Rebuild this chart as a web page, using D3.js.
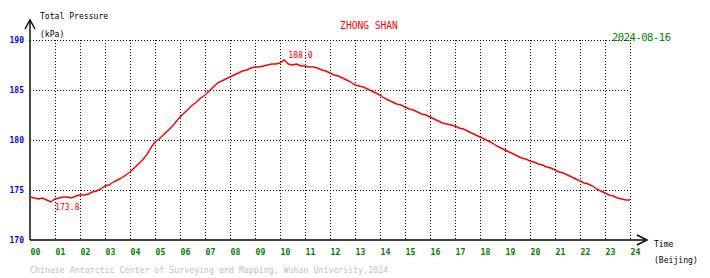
<!DOCTYPE html>
<html><head><meta charset="utf-8">
<script src="https://cdn.jsdelivr.net/npm/d3@7"></script>
<style>body{margin:0;background:#fff}svg{display:block}text{font-family:"DejaVu Sans Mono",monospace}</style>
</head><body><svg id="c" width="710" height="278"></svg>
<script>
const hourLabels = ["00","01","02","03","04","05","06","07","08","09","10","11","12","13","14","15","16","17","18","19","20","21","22","23","24"];
const yTicks = [170,175,180,185,190];
// pressure every 10 minutes, 00:00 .. 24:00 (kPa)
const pressure = [
174.3,174.2,174.1,174.2,174.0,173.8,
174.1,174.2,174.3,174.3,174.2,174.4,
174.5,174.5,174.6,174.8,174.9,175.1,
175.4,175.5,175.8,176.0,176.2,176.5,
176.8,177.2,177.6,178.0,178.5,179.2,
179.8,180.1,180.5,180.9,181.3,181.8,
182.3,182.7,183.1,183.5,183.8,184.2,
184.5,184.9,185.3,185.7,185.9,186.1,
186.3,186.5,186.7,186.9,187.0,187.2,
187.3,187.3,187.4,187.5,187.6,187.6,
187.7,188.0,187.6,187.5,187.6,187.4,
187.4,187.3,187.3,187.2,187.0,186.9,
186.7,186.5,186.4,186.2,186.0,185.8,
185.5,185.4,185.3,185.1,184.9,184.7,
184.5,184.2,184.0,183.8,183.6,183.5,
183.3,183.1,183.0,182.8,182.6,182.5,
182.3,182.1,181.9,181.7,181.6,181.5,
181.4,181.2,181.1,180.9,180.7,180.5,
180.3,180.1,179.9,179.7,179.4,179.2,
179.0,178.8,178.6,178.4,178.2,178.1,
177.9,177.8,177.6,177.5,177.3,177.2,
177.0,176.8,176.7,176.5,176.3,176.1,
175.9,175.7,175.6,175.4,175.1,174.9,
174.7,174.5,174.4,174.2,174.1,174.0,
174.0];
const stepMinutes = 10;
const station = "ZHONG SHAN";
const dateLabel = "2024-08-16";
const footer = "Chinese Antarctic Center of Surveying and Mapping, Wuhan University,2024";

const svg = d3.select("#c");
const x = d3.scaleLinear().domain([0,24]).range([30,630]);
const y = d3.scaleLinear().domain([170,190]).range([240,40]);

// grid
const g = svg.append("g").attr("stroke","#000").attr("stroke-dasharray","1,2").attr("shape-rendering","crispEdges");
yTicks.filter(v=>v>170).forEach(v=>{
  g.append("line").attr("x1",x(0)).attr("x2",x(24)).attr("y1",Math.round(y(v))+0.5).attr("y2",Math.round(y(v))+0.5);
});
d3.range(1,25).forEach(h=>{
  g.append("line").attr("x1",Math.round(x(h))+0.5).attr("x2",Math.round(x(h))+0.5).attr("y1",y(190)).attr("y2",y(170));
});

// axes
const ax = svg.append("g").attr("stroke","#000").attr("fill","none").attr("stroke-width",1.4);
ax.append("line").attr("x1",x(0)).attr("x2",x(0)).attr("y1",20).attr("y2",y(170));
ax.append("polyline").attr("points",`${x(0)-5},29 ${x(0)},20 ${x(0)+5},29`);
ax.append("line").attr("x1",x(0)).attr("x2",647).attr("y1",y(170)).attr("y2",y(170));
ax.append("polyline").attr("points",`637,235 647,240 637,245`);

// y tick labels
yTicks.forEach(v=>{
  svg.append("text").attr("x",24).attr("y",y(v)+3).attr("text-anchor","end")
    .attr("font-size",8).attr("font-weight","bold").attr("fill","#0000ff").text(v);
});
// x tick labels
hourLabels.forEach((l,i)=>{
  svg.append("text").attr("x",x(i)+0.5).attr("y",255).attr("font-size",8.2)
    .attr("font-weight","bold").attr("fill","#008000").text(l);
});

// line
const line = d3.line().x((d,i)=>x(i*stepMinutes/60)).y(d=>y(d));
svg.append("path").datum(pressure).attr("d",line).attr("fill","none")
  .attr("stroke","#ff0000").attr("stroke-width",1.4);

// min / max labels
const minV = d3.min(pressure), maxV = d3.max(pressure);
const maxI = pressure.indexOf(maxV);
svg.append("text").attr("x",55).attr("y",y(minV)+8).attr("font-size",8.2).attr("fill","#ff0000").text(minV.toFixed(1));
svg.append("text").attr("x",x(maxI*stepMinutes/60)+4).attr("y",y(maxV)-2).attr("font-size",8.2).attr("fill","#ff0000").text(maxV.toFixed(1));

// titles
svg.append("text").attr("x",40).attr("y",19).attr("font-size",8.1).attr("fill","#000").text("Total Pressure");
svg.append("text").attr("x",40).attr("y",37).attr("font-size",8.1).attr("fill","#000").text("(kPa)");
svg.append("text").attr("x",369).attr("y",29).attr("text-anchor","middle").attr("font-size",9.6).attr("fill","#ff0000").text(station);
svg.append("text").attr("x",612).attr("y",41).attr("font-size",10.5).attr("fill","#008000").attr("textLength",59).text(dateLabel);
svg.append("text").attr("x",654).attr("y",247).attr("font-size",8.1).attr("fill","#000").text("Time");
svg.append("text").attr("x",654).attr("y",263).attr("font-size",8.1).attr("fill","#000").text("(Beijing)");
svg.append("text").attr("x",30).attr("y",273).attr("font-size",8.1).attr("fill","#c0c0c0").attr("textLength",358).text(footer);
</script></body></html>
